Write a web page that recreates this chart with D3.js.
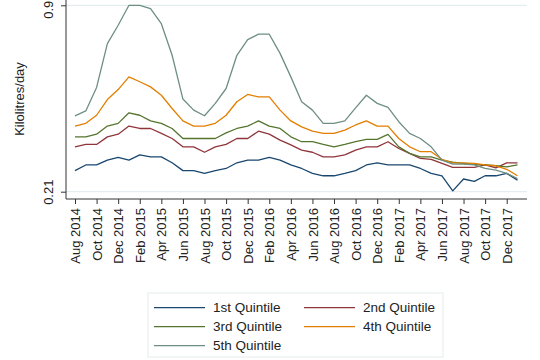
<!DOCTYPE html>
<html>
<head>
<meta charset="utf-8">
<script src="https://cdn.jsdelivr.net/npm/d3@7"></script>
<style>
  body { margin: 0; background: #fff; }
  svg { display: block; font-family: "Liberation Sans", Arial, sans-serif; }
</style>
</head>
<body>
<svg id="chart" width="540" height="360"></svg>
<script>
// months Aug 2014 .. Jan 2018
const months = d3.timeMonth.range(new Date(2014, 7, 1), new Date(2018, 1, 1)).map(d3.timeFormat("%b %Y"))
const tickMonths = months.filter((d, i) => i % 2 == 0 && i < 41)
const yTicks = [0.21, 0.9]

const q1 = [0.288, 0.309, 0.309, 0.327, 0.337, 0.327, 0.346, 0.339, 0.339, 0.317, 0.288, 0.288, 0.278, 0.288, 0.296, 0.317, 0.327, 0.327, 0.337,
            0.327, 0.309, 0.296, 0.278, 0.269, 0.269, 0.278, 0.288, 0.309, 0.317, 0.309, 0.309, 0.309, 0.296, 0.278, 0.269, 0.213, 0.257, 0.248, 0.269, 0.269, 0.278, 0.253]
const q2 = [0.376, 0.385, 0.385, 0.413, 0.423, 0.453, 0.444, 0.444, 0.426, 0.407, 0.376, 0.376, 0.356, 0.376, 0.385, 0.407, 0.407, 0.434, 0.423,
            0.401, 0.383, 0.364, 0.356, 0.339, 0.339, 0.346, 0.364, 0.376, 0.376, 0.395, 0.370, 0.352, 0.333, 0.330, 0.315, 0.300, 0.300, 0.300, 0.309, 0.298, 0.317, 0.317]
const q3 = [0.413, 0.413, 0.423, 0.453, 0.463, 0.502, 0.493, 0.472, 0.463, 0.444, 0.407, 0.407, 0.407, 0.407, 0.428, 0.444, 0.453, 0.472, 0.453,
            0.444, 0.413, 0.395, 0.395, 0.385, 0.376, 0.385, 0.395, 0.404, 0.404, 0.422, 0.376, 0.352, 0.339, 0.339, 0.327, 0.319, 0.315, 0.311, 0.309, 0.306, 0.302, 0.309]
const q4 = [0.453, 0.463, 0.493, 0.551, 0.588, 0.635, 0.617, 0.598, 0.567, 0.518, 0.472, 0.453, 0.453, 0.463, 0.493, 0.543, 0.570, 0.561, 0.561,
            0.512, 0.472, 0.450, 0.434, 0.426, 0.426, 0.438, 0.457, 0.472, 0.453, 0.453, 0.407, 0.376, 0.358, 0.358, 0.330, 0.317, 0.317, 0.315, 0.309, 0.306, 0.293, 0.269]
const q5 = [0.491, 0.509, 0.596, 0.758, 0.826, 0.900, 0.900, 0.888, 0.832, 0.715, 0.553, 0.512, 0.491, 0.537, 0.592, 0.715, 0.773, 0.793, 0.793,
            0.722, 0.635, 0.543, 0.512, 0.463, 0.463, 0.472, 0.520, 0.567, 0.537, 0.522, 0.469, 0.426, 0.407, 0.376, 0.327, 0.312, 0.312, 0.309, 0.296, 0.290, 0.278, 0.259]

const seriesNames = ["1st Quintile", "2nd Quintile", "3rd Quintile", "4th Quintile", "5th Quintile"]
const seriesColors = ["#1a476f", "#90353b", "#55752f", "#e37e00", "#6e8e84"]
const seriesData = [q1, q2, q3, q4, q5]

const svg = d3.select("#chart")
const plot = {left: 66, right: 527, top: 0, bottom: 199}

let x = d3.scalePoint()
    .domain(months)
    .range([75, 517.5])

let y = d3.scaleLinear()
    .domain([0.21, 0.9])
    .range([191.7, 5.3])

// gridlines
svg.append("g")
    .selectAll("line")
    .data(yTicks)
    .join("line")
    .attr("x1", plot.left)
    .attr("x2", plot.right)
    .attr("y1", d => y(d))
    .attr("y2", d => y(d))
    .attr("stroke", "#e3ecee")
    .attr("stroke-width", 1.2)

// y axis
let yAxis = svg.append("g")
    .attr("transform", `translate(${plot.left},0)`)
    .call(d3.axisLeft(y).tickValues(yTicks).tickFormat(d => String(d)).tickSize(5).tickSizeOuter(0))
yAxis.select(".domain").remove()
yAxis.selectAll(".tick line").attr("stroke", "#333")
yAxis.selectAll(".tick text")
    .attr("transform", "rotate(-90)")
    .attr("text-anchor", "middle")
    .attr("x", (d, i) => d == 0.9 ? -4 : 0)
    .attr("y", -13)
    .attr("dy", 0)
    .attr("font-size", 13)
    .attr("fill", "#222")

// x axis
let xAxis = svg.append("g")
    .attr("transform", `translate(0,${plot.bottom})`)
    .call(d3.axisBottom(x).tickValues(tickMonths).tickSize(5).tickSizeOuter(0))
xAxis.select(".domain").remove()
xAxis.selectAll(".tick line").attr("stroke", "#333")
xAxis.selectAll(".tick text")
    .attr("transform", "rotate(-90)")
    .attr("text-anchor", "end")
    .attr("x", -9)
    .attr("y", 0)
    .attr("dy", "0.35em")
    .attr("font-size", 13)
    .attr("fill", "#222")

// axis lines
svg.append("line")
    .attr("x1", plot.left).attr("x2", plot.left)
    .attr("y1", plot.top).attr("y2", plot.bottom)
    .attr("stroke", "#333").attr("stroke-width", 1)
svg.append("line")
    .attr("x1", plot.left).attr("x2", plot.right)
    .attr("y1", plot.bottom).attr("y2", plot.bottom)
    .attr("stroke", "#333").attr("stroke-width", 1)

// y title
svg.append("text")
    .attr("transform", "translate(24,99) rotate(-90)")
    .attr("text-anchor", "middle")
    .attr("font-size", 13)
    .attr("fill", "#222")
    .text("Kilolitres/day")

// lines
let line = d3.line()
    .x((d, i) => x(months[i]))
    .y(d => y(d))

svg.append("g")
    .selectAll("path")
    .data(seriesData)
    .join("path")
    .attr("d", line)
    .attr("fill", "none")
    .attr("stroke", (d, i) => seriesColors[i])
    .attr("stroke-width", 1.3)
    .attr("stroke-linejoin", "round")

// legend
let legend = svg.append("g")
legend.append("rect")
    .attr("x", 148).attr("y", 293)
    .attr("width", 295).attr("height", 64)
    .attr("fill", "#fff")
    .attr("stroke", "#e6eced")

let legItems = legend.selectAll(".legItem")
    .data(seriesNames)
    .join("g")
    .attr("class", "legItem")
    .attr("transform", (d, i) => `translate(${i % 2 == 0 ? 154 : 304},${307.7 + Math.floor(i / 2) * 19})`)

legItems.append("line")
    .attr("x1", 0).attr("x2", 51)
    .attr("stroke", (d, i) => seriesColors[i])
    .attr("stroke-width", 1.3)

legItems.append("text")
    .attr("x", 59)
    .attr("dy", "0.35em")
    .attr("font-size", 13.5)
    .attr("fill", "#222")
    .text(d => d)
</script>
</body>
</html>
